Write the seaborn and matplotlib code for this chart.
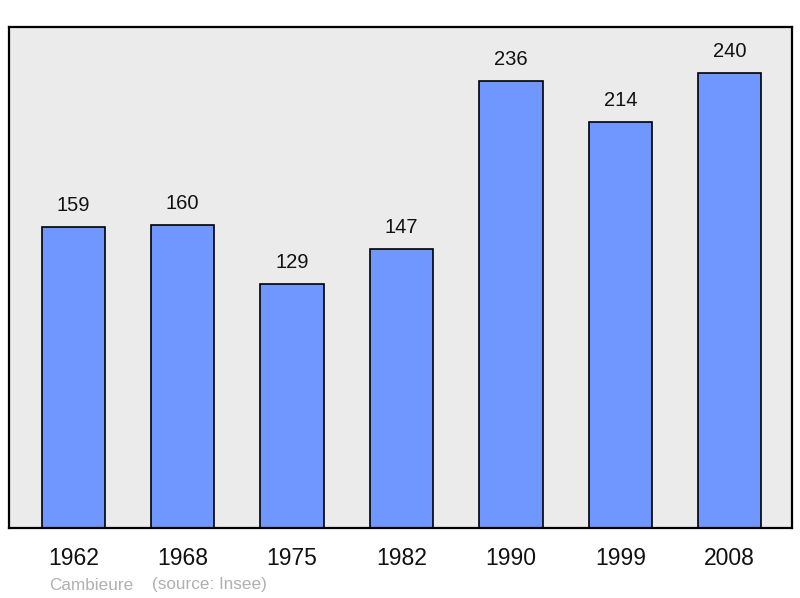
import pandas as pd
import matplotlib.pyplot as plt
import seaborn as sns

# population figures
years = ['1962', '1968', '1975', '1982', '1990', '1999', '2008']
population = [159, 160, 129, 147, 236, 214, 240]
commune = 'Cambieure'
source = '(source: Insee)'

df = pd.DataFrame({'year': years, 'pop': population})

sns.set_style('white')
plt.rcParams['font.family'] = ['Liberation Sans', 'DejaVu Sans']

fig = plt.figure(figsize=(8, 5.98), dpi=100)
ax = fig.add_axes([0.011, 0.117, 0.979, 0.838])
ax.set_facecolor('#ebebeb')

sns.barplot(data=df, x='year', y='pop', color='#7096ff', saturation=1,
            width=0.58, edgecolor='black', linewidth=1.2, ax=ax)

for i, v in enumerate(population):
    ax.annotate(str(v), (i, v), xytext=(0, 15.5), textcoords='offset points',
                ha='center', va='center', fontsize=14.5, color='#111111')

ax.set_xlim(-0.59, 6.57)
ax.set_ylim(0, 264.4)
ax.set_yticks([])
ax.set_xlabel('')
ax.set_ylabel('')
ax.tick_params(axis='x', length=0, pad=13.5, labelsize=16.5, labelcolor='#111111')
for s in ax.spines.values():
    s.set_visible(True)
    s.set_linewidth(1.6)
    s.set_color('black')

fig.text(49 / 800, 1 - 585 / 598, commune, fontsize=12.3, color='#b0b0b0', va='center')
fig.text(152 / 800, 1 - 585 / 598, source, fontsize=12.3, color='#b0b0b0', va='center')

fig.savefig('out.png', dpi=100)
